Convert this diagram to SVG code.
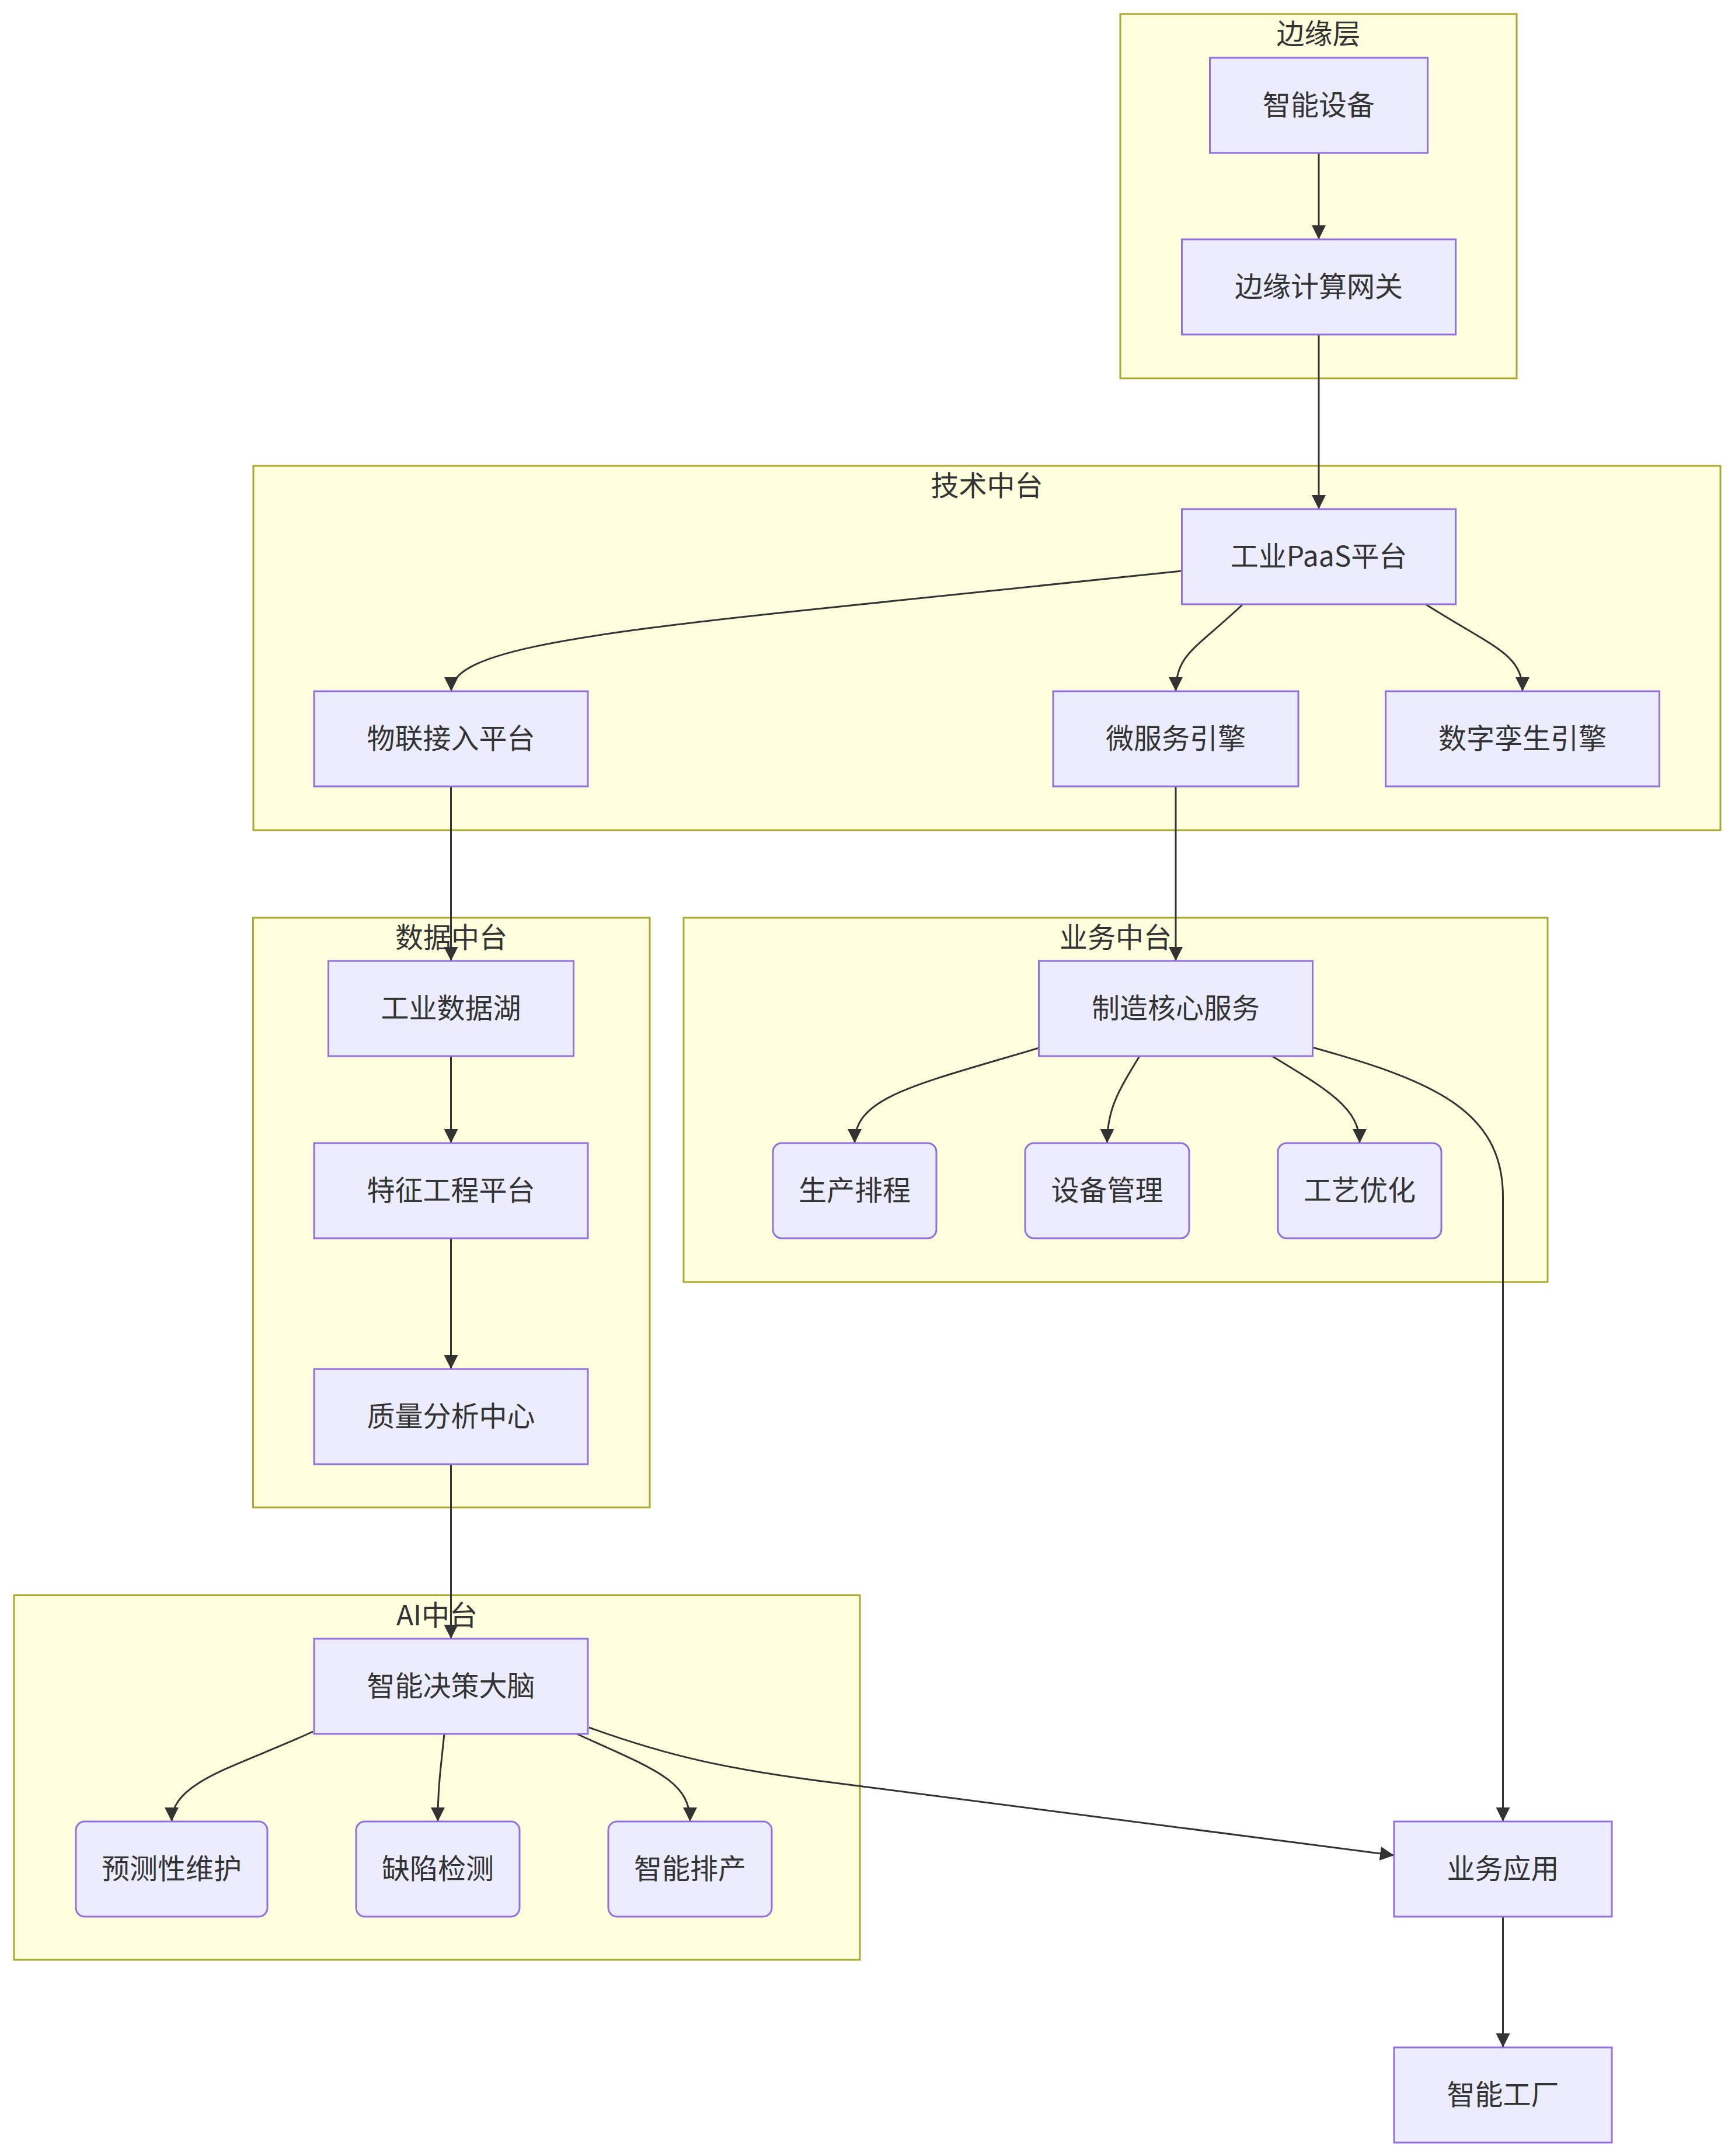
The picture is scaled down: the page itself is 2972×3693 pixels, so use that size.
<svg xmlns="http://www.w3.org/2000/svg" width="2972" height="3693" viewBox="0 0 2972 3693">
<defs>
<style>
.cluster rect{fill:#ffffde;stroke:#aaaa33;stroke-width:3}
.node rect{fill:#ECECFF;stroke:#9370DB;stroke-width:3}
text{fill:#333;font-family:"Noto Sans CJK SC","Noto Sans",sans-serif;font-size:48px;text-anchor:middle}
.edges path{fill:none;stroke:#333;stroke-width:3;marker-end:url(#arrow)}
</style>
<marker id="arrow" viewBox="0 0 10 10" refX="10" refY="5" markerUnits="userSpaceOnUse" markerWidth="24" markerHeight="24" orient="auto">
<path d="M0,0 L10,5 L0,10 z" fill="#333"/>
</marker>
</defs>
<rect width="2972" height="3693" fill="#ffffff"/>
<g id="clusters">
<g id="cluster-edge" class="cluster"><rect x="1919" y="24" width="679" height="624"/><text x="2258.5" y="75">边缘层</text></g>
<g id="cluster-tech" class="cluster"><rect x="434" y="798" width="2513" height="624"/><text x="1690.5" y="849">技术中台</text></g>
<g id="cluster-data" class="cluster"><rect x="433.5" y="1572" width="679.5" height="1010"/><text x="773" y="1623">数据中台</text></g>
<g id="cluster-biz" class="cluster"><rect x="1171" y="1572" width="1480" height="624"/><text x="1911" y="1623">业务中台</text></g>
<g id="cluster-ai" class="cluster"><rect x="24" y="2732.5" width="1449" height="624.5"/><text x="748.5" y="2783.5">AI中台</text></g>
</g>
<g id="connectors" class="edges">
<path d="M2259,262 L2259,410"/>
<path d="M2259,573 L2259,872"/>
<path d="M2024,978 L1400,1043 C950,1090 773,1120 773,1184"/>
<path d="M2129,1035 C2050,1110 2014,1120 2014,1184"/>
<path d="M2442,1035 C2560,1110 2608,1120 2608,1184"/>
<path d="M772.5,1347 L772.5,1646"/>
<path d="M2014,1347 L2014,1646"/>
<path d="M772.5,1809 L772.5,1958"/>
<path d="M772.5,2121 L772.5,2345"/>
<path d="M772.5,2508 L772.5,2807"/>
<path d="M1780,1795 C1560,1860 1464,1880 1464,1958"/>
<path d="M1952,1809 C1915,1870 1896.5,1900 1896.5,1958"/>
<path d="M2179,1809 C2280,1870 2329,1900 2329,1958"/>
<path d="M2248,1794 C2450,1850 2574.5,1900 2574.5,2050 L2574.5,3120"/>
<path d="M536,2966 C410,3025 294,3050 294,3120"/>
<path d="M761,2970 C755,3030 750,3060 750,3120"/>
<path d="M988,2970 C1120,3030 1182,3050 1182,3120"/>
<path d="M1009,2959 C1150,3010 1250,3030 1400,3050 L2388,3178"/>
<path d="M2574.5,3283 L2574.5,3507"/>
</g>
<g id="nodes">
<g id="n-device" class="node"><rect x="2072.5" y="99" width="373" height="163"/><text x="2259" y="196.5">智能设备</text></g>
<g id="n-gateway" class="node"><rect x="2024.5" y="410" width="469" height="163"/><text x="2259" y="507.5">边缘计算网关</text></g>
<g id="n-paas" class="node"><rect x="2024.5" y="872" width="469" height="163"/><text x="2259" y="969.5">工业PaaS平台</text></g>
<g id="n-iot" class="node"><rect x="538" y="1184" width="469" height="163"/><text x="772.5" y="1281.5">物联接入平台</text></g>
<g id="n-micro" class="node"><rect x="1804" y="1184" width="420" height="163"/><text x="2014" y="1281.5">微服务引擎</text></g>
<g id="n-twin" class="node"><rect x="2373.5" y="1184" width="469" height="163"/><text x="2608" y="1281.5">数字孪生引擎</text></g>
<g id="n-lake" class="node"><rect x="562.5" y="1646" width="420" height="163"/><text x="772.5" y="1743.5">工业数据湖</text></g>
<g id="n-core" class="node"><rect x="1779.5" y="1646" width="469" height="163"/><text x="2014" y="1743.5">制造核心服务</text></g>
<g id="n-feature" class="node"><rect x="538" y="1958" width="469" height="163"/><text x="772.5" y="2055.5">特征工程平台</text></g>
<g id="n-schedule" class="node"><rect x="1324" y="1958" width="280" height="163" rx="15" ry="15"/><text x="1464" y="2055.5">生产排程</text></g>
<g id="n-equip" class="node"><rect x="1756" y="1958" width="281" height="163" rx="15" ry="15"/><text x="1896.5" y="2055.5">设备管理</text></g>
<g id="n-process" class="node"><rect x="2189" y="1958" width="280" height="163" rx="15" ry="15"/><text x="2329" y="2055.5">工艺优化</text></g>
<g id="n-quality" class="node"><rect x="538" y="2345" width="469" height="163"/><text x="772.5" y="2442.5">质量分析中心</text></g>
<g id="n-brain" class="node"><rect x="538" y="2807" width="469" height="163"/><text x="772.5" y="2904.5">智能决策大脑</text></g>
<g id="n-predict" class="node"><rect x="130" y="3120" width="328" height="163" rx="15" ry="15"/><text x="294" y="3217.5">预测性维护</text></g>
<g id="n-defect" class="node"><rect x="610" y="3120" width="280" height="163" rx="15" ry="15"/><text x="750" y="3217.5">缺陷检测</text></g>
<g id="n-aisched" class="node"><rect x="1042" y="3120" width="280" height="163" rx="15" ry="15"/><text x="1182" y="3217.5">智能排产</text></g>
<g id="n-app" class="node"><rect x="2388" y="3120" width="373" height="163"/><text x="2574.5" y="3217.5">业务应用</text></g>
<g id="n-factory" class="node"><rect x="2388" y="3507" width="373" height="163"/><text x="2574.5" y="3604.5">智能工厂</text></g>
</g>
</svg>
